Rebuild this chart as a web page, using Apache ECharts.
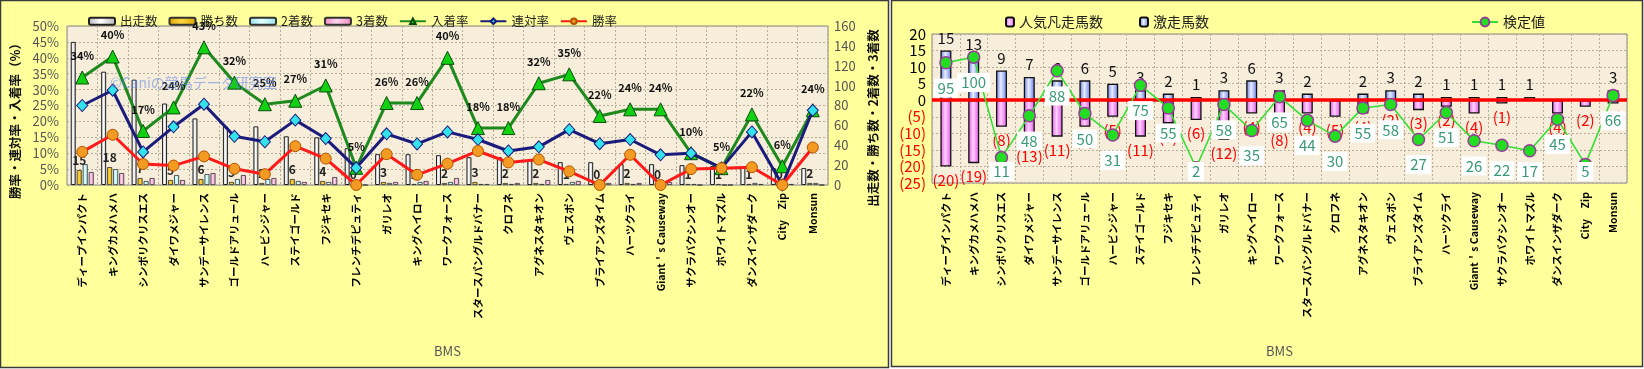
<!DOCTYPE html>
<html><head><meta charset="utf-8">
<script src="https://cdn.jsdelivr.net/npm/echarts@6/dist/echarts.min.js"></script>
<style>html,body{margin:0;padding:0;background:#fff;}#c{width:1644px;height:369px;}</style>
</head><body><div id="c"></div>
<script>
// ---------- data ----------
const categories = ['ディープインパクト','キングカメハメハ','シンボリクリスエス','ダイワメジャー','サンデーサイレンス','ゴールドアリュール','ハービンジャー','ステイゴールド','フジキセキ','フレンチデピュティ','ガリレオ','キングヘイロー','ワークフォース','スタースパングルドバナー','クロフネ','アグネスタキオン','ヴェスポン','ブライアンズタイム','ハーツクライ','Giant＇s Causeway','サクラバクシンオー','ホワイトマズル','ダンスインザダーク','City　Zip','Monsun'];
// left chart (counts on right axis)
const starts  = [144,114,106,82,67,59,59,49,48,37,31,31,30,28,28,25,23,23,21,21,20,19,18,17,17];
const wins    = [15,18,7,5,6,3,2,6,4,0,3,1,2,3,2,2,1,0,2,0,1,1,1,0,2];
const seconds = [21,16,4,10,11,6,6,4,3,2,2,3,3,1,1,1,3,3,1,2,1,0,2,0,2];
const thirds  = [13,12,7,5,12,10,7,3,8,0,3,4,7,1,2,5,4,2,2,3,0,0,1,1,0];
// left chart (rates, %)
const placeRate    = [33.8,40.4,17.0,24.4,43.3,32.2,25.4,26.5,31.3,5.4,25.8,25.8,40.0,17.9,17.9,32.0,34.8,21.7,23.8,23.8,10.0,5.3,22.2,5.9,23.5];
const quinellaRate = [25.0,29.8,10.4,18.3,25.4,15.3,13.6,20.4,14.6,5.4,16.1,12.9,16.7,14.3,10.7,12.0,17.4,13.0,14.3,9.5,10.0,5.3,16.7,0,23.5];
const winRate      = [10.4,15.8,6.6,6.1,9.0,5.1,3.4,12.2,8.3,0,9.7,3.2,6.7,10.7,7.1,8.0,4.3,0,9.5,0,5.0,5.3,5.6,0,11.8];
// right chart
const upsetCount   = [15,13,9,7,6,6,5,3,2,1,3,6,3,2,0,2,3,2,1,1,1,1,0,0,3];      // 激走馬数
const flopCount    = [20,19,8,13,11,8,5,11,7,6,12,4,8,4,5,4,2,3,2,4,1,0,4,2,1];  // 人気凡走馬数
const testValue    = [95,100,11,48,88,50,31,75,55,2,58,35,65,44,30,55,58,27,51,26,22,17,45,5,66]; // 検定値

// ---------- styling helpers ----------
const FONT = "'Noto Sans CJK JP','Noto Sans',sans-serif";
function hgrad(edge, mid) {
  return new echarts.graphic.LinearGradient(0,0,1,0,[{offset:0,color:edge},{offset:0.45,color:mid},{offset:1,color:edge}]);
}
const gridLine = {show:true, lineStyle:{color:'#b5ac9a', type:[2,2], width:1}};

const chart = echarts.init(document.getElementById('c'), null, {renderer:'canvas'});
const option = {
  backgroundColor:'#ffffff',
  animation:false,
  textStyle:{fontFamily:FONT},
  graphic:[
    {type:'rect', z:-100, shape:{x:0.5,y:0.5,width:888,height:367}, style:{fill:'#FFFF9C', stroke:'#3a3a3a', lineWidth:1.5}},
    {type:'rect', z:-100, shape:{x:891.5,y:0.5,width:751,height:366}, style:{fill:'#FFFF9C', stroke:'#3a3a3a', lineWidth:1.5}},
    {type:'text', z:100, x:15, y:118, rotation:Math.PI/2, style:{text:'勝率・連対率・入着率（%）', align:'center', verticalAlign:'middle', font:"bold 12.5px "+FONT, fill:'#111'}},
    {type:'text', z:100, x:873, y:118, rotation:Math.PI/2, style:{text:'出走数・勝ち数・2着数・3着数', align:'center', verticalAlign:'middle', font:"bold 12.5px "+FONT, fill:'#111'}},
    {type:'text', z:100, x:110, y:83, style:{text:'©Caniの競馬データ研究室', align:'left', verticalAlign:'middle', font:"14px "+FONT, fill:'rgba(90,130,230,0.55)'}}
  ],
  legend:[
    {data:['出走数','勝ち数','2着数','3着数','入着率','連対率','勝率'], left:83, top:10, itemWidth:26, itemHeight:7, itemGap:11,
     textStyle:{fontSize:12.5, color:'#222', fontFamily:FONT}},
    {data:['人気凡走馬数','激走馬数'], left:1000, top:10, itemWidth:8, itemHeight:9, itemGap:36,
     textStyle:{fontSize:14, color:'#222', fontFamily:FONT}},
    {data:['検定値'], left:1466, top:10, itemWidth:26, itemHeight:11,
     textStyle:{fontSize:14, color:'#1a1a1a', fontFamily:FONT}}
  ],
  grid:[
    {left:67, top:26, width:761, height:159, show:true, backgroundColor:'#F6EDDA', borderColor:'#8a8a8a', borderWidth:1},
    {left:932, top:34, width:695, height:149, show:true, backgroundColor:'#F6EDDA', borderColor:'#8a8a8a', borderWidth:1}
  ],
  xAxis:[
    {type:'category', gridIndex:0, data:categories, axisLine:{show:false}, axisTick:{show:false}, splitLine:gridLine,
     axisLabel:{interval:0, rotate:90, fontSize:10.5, fontWeight:'bold', color:'#000', margin:8, fontFamily:FONT},
     name:'BMS', nameLocation:'middle', nameGap:160, nameTextStyle:{color:'#555', fontSize:13, fontFamily:FONT}},
    {type:'category', gridIndex:1, data:categories, axisLine:{show:false, onZero:false}, axisTick:{show:false}, splitLine:gridLine,
     axisLabel:{interval:0, rotate:90, fontSize:10.5, fontWeight:'bold', color:'#000', margin:9, fontFamily:FONT},
     name:'BMS', nameLocation:'middle', nameGap:162, nameTextStyle:{color:'#555', fontSize:13, fontFamily:FONT}}
  ],
  yAxis:[
    {type:'value', gridIndex:0, min:0, max:50, interval:5, axisLine:{show:false}, axisTick:{show:false}, splitLine:gridLine,
     axisLabel:{formatter:'{value}%', fontSize:13, color:'#555', margin:8}},
    {type:'value', gridIndex:0, position:'right', min:0, max:160, interval:20, axisLine:{show:false}, axisTick:{show:false}, splitLine:{show:false},
     axisLabel:{fontSize:13, color:'#555', margin:6}},
    {type:'value', gridIndex:1, min:-25, max:20, interval:5, axisLine:{show:false}, axisTick:{show:false}, splitLine:gridLine,
     axisLabel:{margin:6, formatter:function(v){return v<0?'{r|('+(-v)+')}':'{k|'+v+'}';},
       rich:{r:{color:'#FF0000', fontSize:15, fontFamily:FONT}, k:{color:'#000', fontSize:15, fontFamily:FONT}}}},
    {type:'value', gridIndex:1, position:'right', min:-11.5, max:120.5, show:false, splitLine:{show:false}}
  ],
  series:[
    {name:'出走数', type:'bar', xAxisIndex:0, yAxisIndex:1, data:starts, barWidth:5, barGap:'20%',
     itemStyle:{color:hgrad('#b4b4b4','#ffffff'), borderColor:'#222', borderWidth:1}},
    {name:'勝ち数', type:'bar', xAxisIndex:0, yAxisIndex:1, data:wins, barWidth:5, barGap:'20%',
     itemStyle:{color:hgrad('#D9A400','#FFD640'), borderColor:'#333', borderWidth:0.8},
     label:{show:true, position:'top', distance:4, fontSize:12, fontWeight:'bold', color:'#222', fontFamily:FONT}},
    {name:'2着数', type:'bar', xAxisIndex:0, yAxisIndex:1, data:seconds, barWidth:5, barGap:'20%',
     itemStyle:{color:hgrad('#8FE3EE','#E4FFFF'), borderColor:'#333', borderWidth:0.8}},
    {name:'3着数', type:'bar', xAxisIndex:0, yAxisIndex:1, data:thirds, barWidth:5, barGap:'20%',
     itemStyle:{color:hgrad('#EE88C4','#FFD6EE'), borderColor:'#333', borderWidth:0.8}},
    {name:'入着率', type:'line', xAxisIndex:0, yAxisIndex:0, data:placeRate, z:4,
     symbol:'triangle', symbolSize:13, lineStyle:{color:'#1E8A1E', width:3},
     itemStyle:{color:'#12D012', borderColor:'#0b4d0b', borderWidth:1},
     label:{show:true, position:'top', distance:9, fontSize:11, fontWeight:'bold', color:'#111', fontFamily:FONT,
       formatter:function(p){return Math.round(p.value)+'%';}}},
    {name:'連対率', type:'line', xAxisIndex:0, yAxisIndex:0, data:quinellaRate, z:5,
     symbol:'diamond', symbolSize:[11,12], lineStyle:{color:'#1B1B7C', width:3},
     itemStyle:{color:'#33E2EA', borderColor:'#1B1B7C', borderWidth:1}},
    {name:'勝率', type:'line', xAxisIndex:0, yAxisIndex:0, data:winRate, z:6,
     symbol:'circle', symbolSize:11, lineStyle:{color:'#FF1A1A', width:3},
     itemStyle:{color:'#F39A22', borderColor:'#B35500', borderWidth:1}},

    {name:'人気凡走馬数', type:'bar', xAxisIndex:1, yAxisIndex:2, data:flopCount.map(function(v){return v?-v:'-';}),
     barWidth:11, barGap:'-100%', z:2,
     itemStyle:{color:hgrad('#E24FE2','#FFD2FF'), borderColor:'#111', borderWidth:1.3},
     label:{show:true, position:'bottom', distance:6, fontSize:15, color:'#FF0000', fontFamily:FONT,
       formatter:function(p){return '('+(-p.value)+')';}},
     markLine:{silent:true, symbol:'none', data:[{yAxis:0}], label:{show:false},
       lineStyle:{color:'#FF0000', width:3.5, type:'solid'}}},
    {name:'激走馬数', type:'bar', xAxisIndex:1, yAxisIndex:2, data:upsetCount.map(function(v){return v?v:'-';}),
     barWidth:11, barGap:'-100%', z:2,
     itemStyle:{color:hgrad('#6478E8','#E8EEFF'), borderColor:'#111', borderWidth:1.3},
     label:{show:true, position:'top', distance:5, fontSize:15, color:'#111', fontFamily:FONT}},
    {name:'検定値', type:'line', xAxisIndex:1, yAxisIndex:3, data:testValue, z:8,
     symbol:'circle', symbolSize:12, lineStyle:{color:'#33E033', width:1.6},
     itemStyle:{color:'#22DD22', borderColor:'#9a3a9a', borderWidth:1.5},
     label:{show:true, position:'bottom', distance:9, fontSize:15, color:'#3A9A78', backgroundColor:'#ffffff',
       padding:[2,4], fontFamily:FONT},
     labelLayout:function(p){var r=p.labelRect; var lim=181; if(r.y+r.height>lim){return {dy:lim-r.y-r.height};} return {};}}
  ]
};
chart.setOption(option);
</script></body></html>
